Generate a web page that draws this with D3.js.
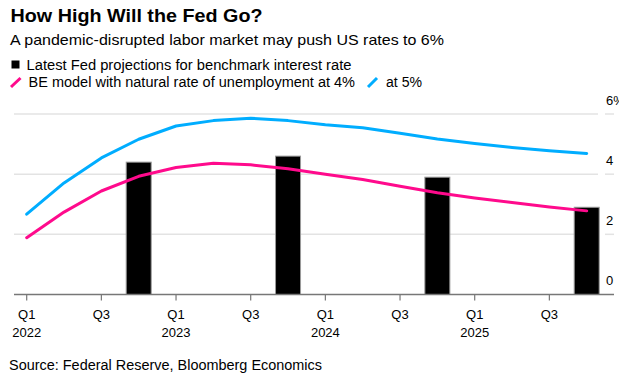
<!DOCTYPE html>
<html>
<head>
<meta charset="utf-8">
<script src="https://cdn.jsdelivr.net/npm/d3@7"></script>
<style>
  body { margin: 0; background: #fff; }
  svg { display: block; font-family: "Liberation Sans", Arial, sans-serif; }
</style>
</head>
<body>
<div id="vis"></div>
<script>
// quarters Q1 2022 .. Q4 2025
const QUARTERS = ["Q1 2022","Q2 2022","Q3 2022","Q4 2022","Q1 2023","Q2 2023","Q3 2023","Q4 2023",
                  "Q1 2024","Q2 2024","Q3 2024","Q4 2024","Q1 2025","Q2 2025","Q3 2025","Q4 2025"];
// BE model, natural rate of unemployment at 4%
const BE_4 = [1.89, 2.74, 3.44, 3.93, 4.22, 4.36, 4.31, 4.18, 4.0, 3.82, 3.6, 3.38, 3.21, 3.06, 2.91, 2.78];
// BE model, natural rate of unemployment at 5%
const BE_5 = [2.67, 3.71, 4.54, 5.16, 5.6, 5.78, 5.86, 5.78, 5.64, 5.54, 5.36, 5.17, 5.02, 4.89, 4.78, 4.69];
// latest Fed projections (year-end)
const FED_Q = ["Q4 2022", "Q4 2023", "Q4 2024", "Q4 2025"];
const FED_VAL = [4.4, 4.6, 3.9, 2.9];
const Y_TICKS = [0, 2, 4, 6];
const X_TICKS = ["Q1 2022","Q3 2022","Q1 2023","Q3 2023","Q1 2024","Q3 2024","Q1 2025","Q3 2025"];

const WIDTH = 619, HEIGHT = 380;
const BLUE = "#00adff", PINK = "#ff0a8c";

const svg = d3.select("#vis").append("svg")
    .attr("width", WIDTH).attr("height", HEIGHT);

const X_SCALE = d3.scalePoint().domain(QUARTERS).range([26.7, 586.7]);
const Y_SCALE = d3.scaleLinear().domain([0, 6]).range([294.5, 114]);

// titles
svg.append("text").attr("x", 10.5).attr("y", 21.7)
    .attr("font-size", 18.5).attr("font-weight", "bold")
    .attr("textLength", 252).attr("lengthAdjust", "spacingAndGlyphs")
    .text("How High Will the Fed Go?");
svg.append("text").attr("x", 10).attr("y", 45)
    .attr("font-size", 15)
    .attr("textLength", 434).attr("lengthAdjust", "spacingAndGlyphs")
    .text("A pandemic-disrupted labor market may push US rates to 6%");

// legend
svg.append("rect").attr("x", 11.5).attr("y", 60.5).attr("width", 8).attr("height", 8).attr("fill", "#000");
svg.append("text").attr("x", 26.5).attr("y", 70).attr("font-size", 14)
    .attr("textLength", 325).attr("lengthAdjust", "spacingAndGlyphs")
    .text("Latest Fed projections for benchmark interest rate");
svg.append("line").attr("x1", 11).attr("y1", 87).attr("x2", 20.5).attr("y2", 78)
    .attr("stroke", PINK).attr("stroke-width", 3);
svg.append("text").attr("x", 28.5).attr("y", 87.3).attr("font-size", 14)
    .attr("textLength", 326.5).attr("lengthAdjust", "spacingAndGlyphs")
    .text("BE model with natural rate of unemployment at 4%");
svg.append("line").attr("x1", 368).attr("y1", 87).attr("x2", 377).attr("y2", 78)
    .attr("stroke", BLUE).attr("stroke-width", 3);
svg.append("text").attr("x", 386).attr("y", 87.3).attr("font-size", 14)
    .attr("textLength", 36).attr("lengthAdjust", "spacingAndGlyphs")
    .text("at 5%");

// gridlines + right axis labels
const grid = svg.append("g");
Y_TICKS.filter(d => d > 0).forEach(d => {
    grid.append("line").attr("x1", 14).attr("x2", 598)
        .attr("y1", Y_SCALE(d)).attr("y2", Y_SCALE(d))
        .attr("stroke", "#e3e3e3").attr("stroke-width", 1.5);
    grid.append("line").attr("x1", 605).attr("x2", 614)
        .attr("y1", Y_SCALE(d)).attr("y2", Y_SCALE(d))
        .attr("stroke", "#e3e3e3").attr("stroke-width", 1.5);
});
svg.append("g").selectAll("text")
    .data(Y_TICKS).enter().append("text")
    .attr("x", 606)
    .attr("y", d => Y_SCALE(d) - 9.5)
    .attr("font-size", 13)
    .attr("fill", "#000")
    .text(d => d === 6 ? "6%" : d);

// bars
svg.selectAll(".bar")
    .data(FED_Q).enter().append("rect")
    .attr("class", "bar")
    .attr("x", d => X_SCALE(d) - 12.5)
    .attr("y", (d, i) => Y_SCALE(FED_VAL[i]))
    .attr("width", 25)
    .attr("height", (d, i) => Y_SCALE(0) - Y_SCALE(FED_VAL[i]))
    .attr("fill", "#000")
    .attr("stroke", "#9a9a9a").attr("stroke-width", 1);

// lines
const line = d3.line()
    .x((d, i) => X_SCALE(QUARTERS[i]))
    .y(d => Y_SCALE(d));
[[BE_5, BLUE], [BE_4, PINK]].forEach(([vals, col]) => {
    svg.append("path").datum(vals)
        .attr("d", line)
        .attr("fill", "none")
        .attr("stroke", col)
        .attr("stroke-width", 3)
        .attr("stroke-linecap", "round")
        .attr("stroke-linejoin", "round");
});

// x axis
svg.append("line").attr("x1", 14).attr("x2", 614)
    .attr("y1", Y_SCALE(0)).attr("y2", Y_SCALE(0))
    .attr("stroke", "#777").attr("stroke-width", 1.3);
const xt = svg.append("g").selectAll("g")
    .data(X_TICKS).enter().append("g")
    .attr("transform", d => "translate(" + X_SCALE(d) + ",0)");
xt.append("line").attr("y1", Y_SCALE(0)).attr("y2", 300.5)
    .attr("stroke", "#777").attr("stroke-width", 1.2);
xt.append("text").attr("y", 319.3).attr("text-anchor", "middle")
    .attr("font-size", 13).text(d => d.split(" ")[0]);
xt.filter(d => d.startsWith("Q1")).append("text")
    .attr("y", 336.7).attr("text-anchor", "middle")
    .attr("font-size", 13).text(d => d.split(" ")[1]);

// source
svg.append("text").attr("x", 9).attr("y", 370).attr("font-size", 14)
    .attr("textLength", 313).attr("lengthAdjust", "spacingAndGlyphs")
    .text("Source: Federal Reserve, Bloomberg Economics");
</script>
</body>
</html>
